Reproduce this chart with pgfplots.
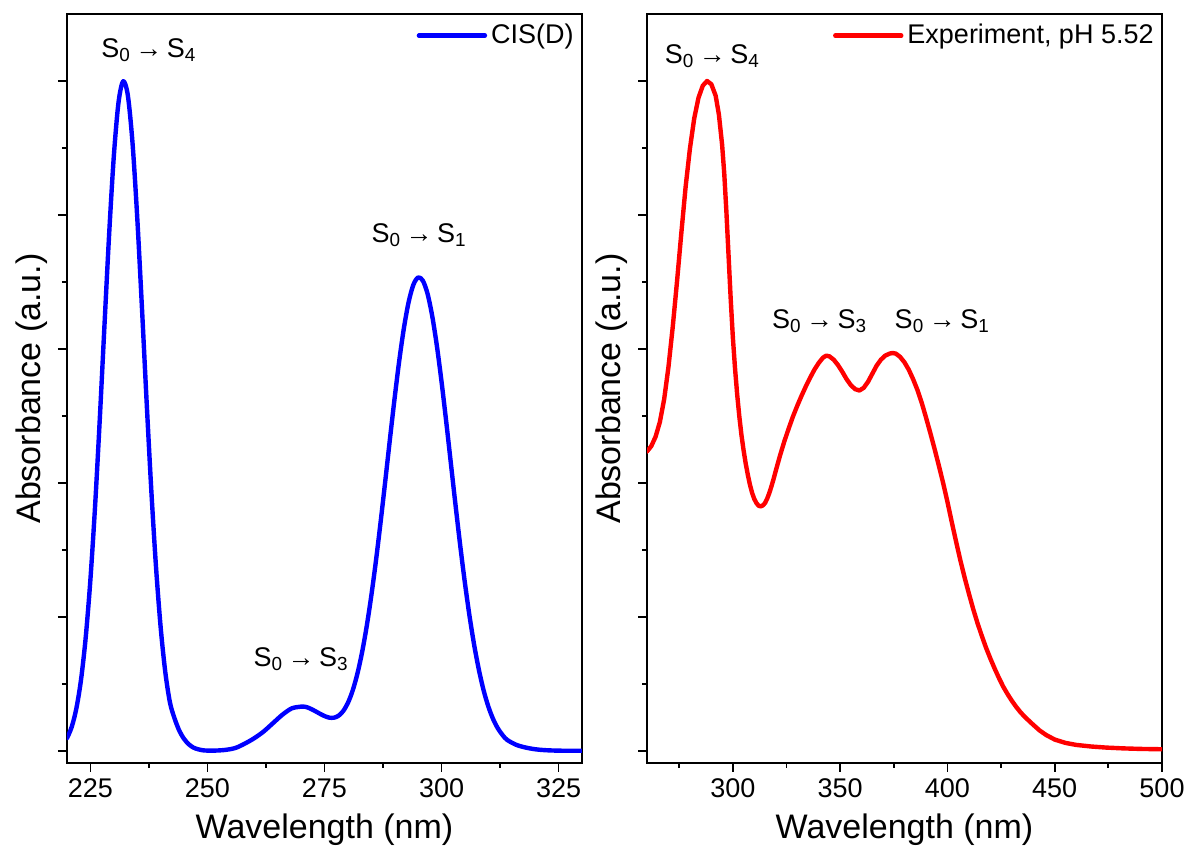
\documentclass[border=0pt]{standalone}
\usepackage{fontspec}
\setmainfont{Liberation Sans}
\usepackage{pgfplots}
\usepackage{pgfplotstable}
\pgfplotsset{compat=1.18}

\definecolor{cisblue}{RGB}{0,0,255}
\definecolor{exred}{RGB}{255,0,0}

% CIS(D) simulated spectrum
\pgfplotstableread{
lam  A
220 0.0191
221 0.0357
222 0.0634
223 0.1065
224 0.1696
225 0.2558
226 0.3656
227 0.4949
228 0.6347
229 0.7711
230 0.8876
231 0.9678
232 0.9997
233 0.9783
234 0.9070
235 0.7966
236 0.6628
237 0.5224
238 0.3901
239 0.2760
240 0.1849
241 0.1174
242 0.0720
243 0.0480
244 0.0300
245 0.0180
246 0.0100
247 0.0050
248 0.0025
249 0.0010
250 0.0005
252 0.0006
254 0.0017
256 0.0045
258 0.0110
260 0.0190
262 0.0290
264 0.0415
266 0.0540
268 0.0635
270 0.0661
271 0.0657
272 0.0631
273 0.0595
274 0.0556
275 0.0521
276 0.0497
277 0.0496
278 0.0525
279 0.0596
280 0.0717
281 0.0898
282 0.1145
283 0.1463
284 0.1854
285 0.2317
286 0.2844
287 0.3425
288 0.4041
289 0.4669
290 0.5279
291 0.5843
292 0.6329
293 0.6709
294 0.6961
295 0.7067
296 0.7021
297 0.6827
298 0.6495
299 0.6048
300 0.5511
301 0.4914
302 0.4288
303 0.3662
304 0.3060
305 0.2503
306 0.2003
307 0.1569
308 0.1203
309 0.0901
310 0.0662
311 0.0478
312 0.0340
313 0.0240
314 0.0165
316 0.0090
318 0.0050
320 0.0025
322 0.0012
325 0.0004
330 0.0002
}\cisd

% Measured spectrum, pH 5.52
\pgfplotstableread{
lam  A
260 0.447
262 0.455
264 0.469
266 0.491
268 0.525
270 0.573
272 0.633
274 0.701
276 0.773
278 0.842
280 0.899
282 0.944
284 0.975
286 0.993
288 1.000
290 0.995
292 0.978
293.5 0.950
295 0.905
296 0.862
297 0.805
298 0.740
299 0.675
300 0.618
301 0.572
302 0.533
303 0.500
304 0.472
305 0.449
306 0.429
307 0.412
308 0.397
309 0.385
310 0.376
311 0.370
312 0.366
313 0.365
314 0.3665
315 0.370
316 0.3765
317 0.385
318 0.395
319 0.406
320 0.418
322 0.441
324 0.462
326 0.481
328 0.499
330 0.515
332 0.530
334 0.544
336 0.557
338 0.569
340 0.579
342 0.587
343.5 0.590
345 0.589
347 0.584
349 0.576
351 0.566
353 0.555
355 0.546
357 0.540
359 0.538
361 0.542
363 0.551
365 0.563
367 0.575
369 0.584
371 0.590
373 0.593
374.5 0.594
376 0.593
378 0.588
380 0.580
382 0.569
384 0.555
386 0.539
388 0.520
390 0.498
392 0.475
394 0.451
396 0.426
398 0.400
400 0.372
402 0.342
404 0.313
406 0.285
408 0.259
410 0.235
412 0.212
414 0.191
416 0.172
418 0.154
420 0.138
422 0.123
424 0.109
426 0.096
428 0.085
430 0.075
432 0.066
434 0.058
436 0.051
438 0.045
440 0.039
443 0.0305
446 0.0238
450 0.0170
455 0.0120
460 0.0090
467 0.0066
474 0.0050
482 0.0038
490 0.0030
500 0.0025
}\expt

\newcommand{\tfont}{\fontsize{13.5}{16}\selectfont}
\newcommand{\lfont}{\fontsize{17}{20}\selectfont}
\newcommand{\tr}[2]{S\textsubscript{#1}\,→\,S\textsubscript{#2}}

\tikzset{ann/.style={anchor=base, font=\tfont, inner sep=0pt}}

\pgfplotsset{
  spectrum/.style={
    scale only axis, width=257.5pt, height=374.5pt,
    ymin=-0.018, ymax=1.1,
    ytick={0,0.2,0.4,0.6,0.8,1}, minor ytick={0.1,0.3,0.5,0.7,0.9},
    yticklabels={},
    tick align=outside, tick pos=left,
    major tick length=4.5pt, minor tick length=2.5pt,
    axis line style={line width=1pt},
    every tick/.append style={black, line width=0.9pt},
    tick label style={font=\tfont},
    /pgf/number format/assume math mode=true,
    xlabel={Wavelength (nm)}, ylabel={Absorbance (a.u.)},
    every axis x label/.style={at={(axis description cs:0.5,-0.0894)}, anchor=center, font=\lfont},
    every axis y label/.style={at={(axis description cs:-0.068,0.5)}, rotate=90, anchor=center, font=\lfont},
    legend style={draw=none, fill=none, at={(axis description cs:1,1)}, anchor=north east,
      font=\tfont, inner xsep=2pt, inner ysep=3pt},
    legend cell align=left,
    legend image code/.code={\draw[#1] (0pt,0pt) -- (33pt,0pt);},
    every axis plot/.append style={line width=2.2pt, line join=round, line cap=round, no markers},
  },
}

\begin{document}
\begin{tikzpicture}
\begin{axis}[spectrum, at={(0pt,0pt)},
  xmin=220, xmax=330,
  xtick={225,250,275,300,325}, minor xtick={237.5,262.5,287.5,312.5}]
  \addplot[cisblue, smooth] table[x=lam, y=A] {\cisd};
  \addlegendentry{CIS(D)}
  \node[ann] at (axis cs:237.5,1.035) {\tr{0}{4}};
  \node[ann] at (axis cs:295.2,0.759) {\tr{0}{1}};
  \node[ann] at (axis cs:270.0,0.126) {\tr{0}{3}};
\end{axis}
\begin{axis}[spectrum, at={(290pt,0pt)},
  xmin=260, xmax=500,
  xtick={300,350,400,450,500}, minor xtick={275,325,375,425,475}]
  \addplot[exred] table[x=lam, y=A] {\expt};
  \addlegendentry{Experiment, pH 5.52}
  \node[ann] at (axis cs:290.5,1.026) {\tr{0}{4}};
  \node[ann] at (axis cs:340.4,0.631) {\tr{0}{3}};
  \node[ann] at (axis cs:397.6,0.631) {\tr{0}{1}};
\end{axis}
\pgfresetboundingbox
\path (-33.5pt,-43.5pt) rectangle (561.5pt,381.5pt);
\end{tikzpicture}
\end{document}
